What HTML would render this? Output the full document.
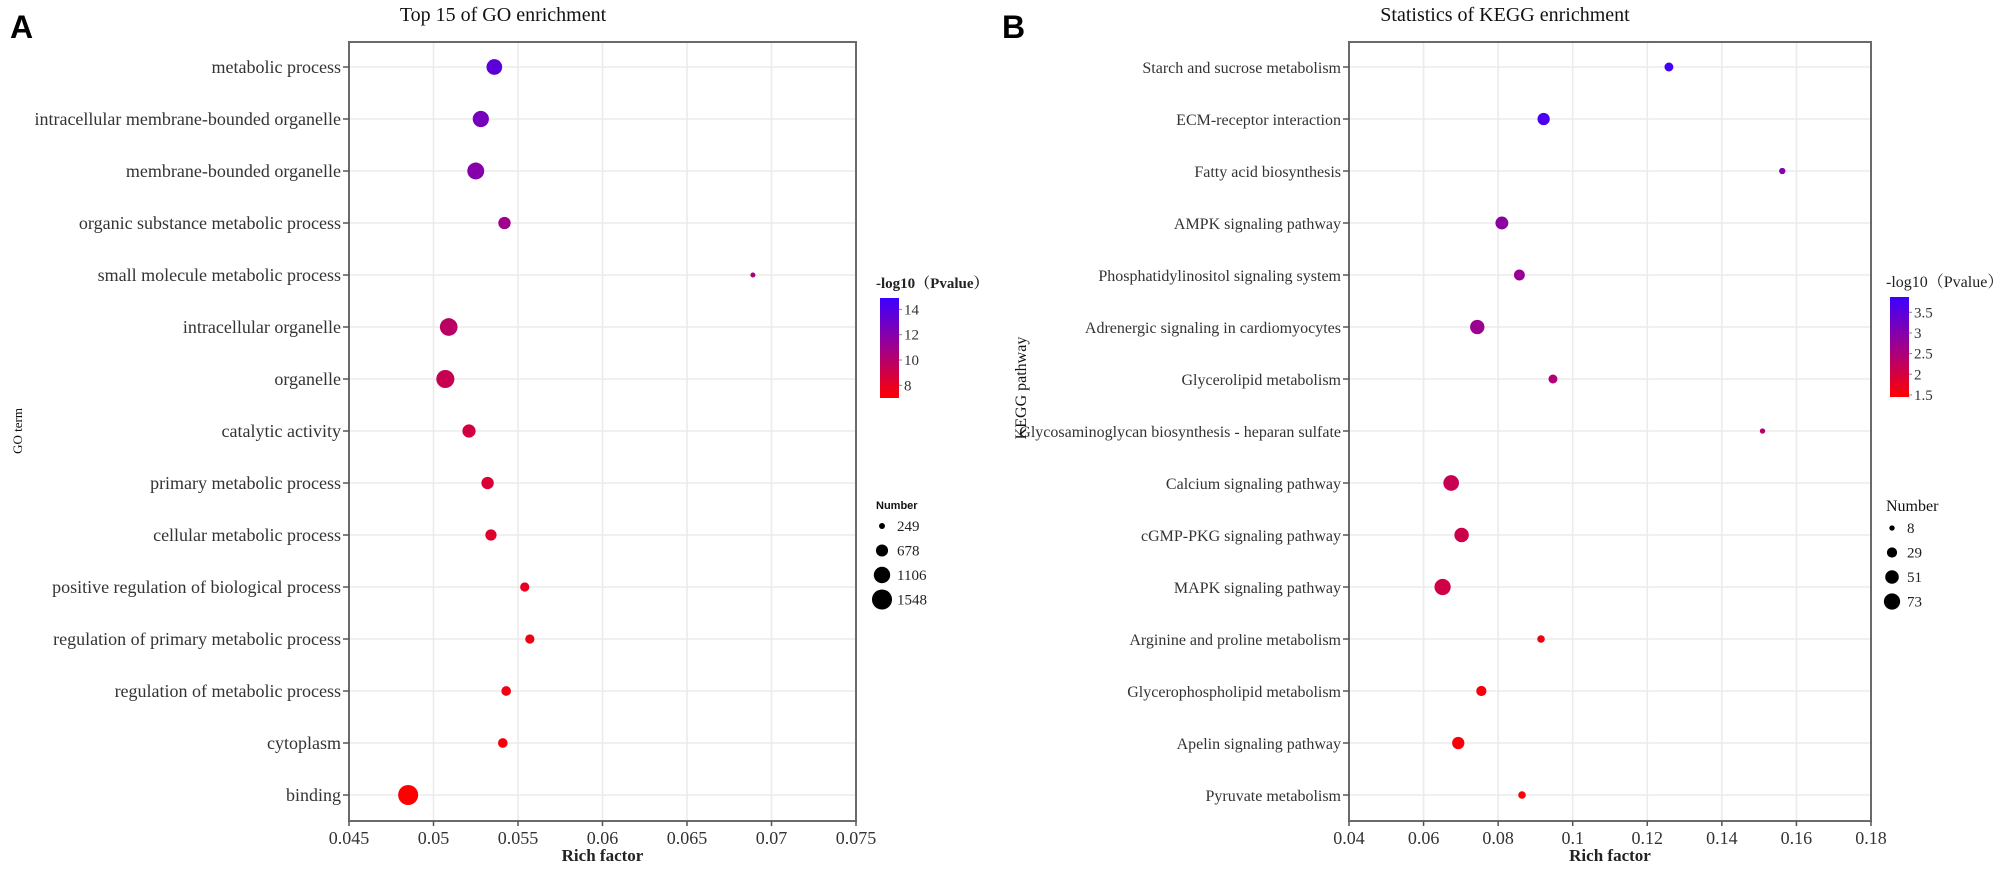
<!DOCTYPE html>
<html><head><meta charset="utf-8"><style>
body{margin:0;background:#fff}
svg text{font-family:"Liberation Serif","Noto Serif CJK SC",serif}
</style></head><body>
<svg id="c" width="2001" height="868" viewBox="0 0 2001 868" xmlns="http://www.w3.org/2000/svg">
<defs>
<linearGradient id="gA" x1="0" y1="1" x2="0" y2="0"><stop offset="0" stop-color="#ff0000"/><stop offset="0.5" stop-color="#a0008c"/><stop offset="1" stop-color="#3c00ff"/></linearGradient>
</defs>
</svg>
<script>
// ---- Panel A data ----
const goTerms=["metabolic process","intracellular membrane-bounded organelle","membrane-bounded organelle","organic substance metabolic process","small molecule metabolic process","intracellular organelle","organelle","catalytic activity","primary metabolic process","cellular metabolic process","positive regulation of biological process","regulation of primary metabolic process","regulation of metabolic process","cytoplasm","binding"];
const goRich=[0.0536,0.0528,0.0525,0.0542,0.0689,0.0509,0.0507,0.0521,0.0532,0.0534,0.0554,0.0557,0.0543,0.0541,0.0485];
const goNumber=[1030,1080,1160,700,200,1250,1300,780,700,600,450,450,480,480,1548];
const goLogP=[13.6,12.6,12.0,11.0,10.6,9.8,9.3,8.8,8.5,8.3,8.0,7.6,7.5,7.3,7.0];
const goXTicks=[0.045,0.05,0.055,0.06,0.065,0.07,0.075];
const goColorTicks=[14,12,10,8];
const goSizeLegend=[249,678,1106,1548];
// ---- Panel B data ----
const keggTerms=["Starch and sucrose metabolism","ECM-receptor interaction","Fatty acid biosynthesis","AMPK signaling pathway","Phosphatidylinositol signaling system","Adrenergic signaling in cardiomyocytes","Glycerolipid metabolism","Glycosaminoglycan biosynthesis - heparan sulfate","Calcium signaling pathway","cGMP-PKG signaling pathway","MAPK signaling pathway","Arginine and proline metabolism","Glycerophospholipid metabolism","Apelin signaling pathway","Pyruvate metabolism"];
const keggRich=[0.1258,0.0922,0.1562,0.0810,0.0857,0.0744,0.0947,0.1509,0.0674,0.0702,0.0651,0.0915,0.0755,0.0693,0.0864];
const keggNumber=[22,42,11,46,33,57,22,8,68,58,73,16,29,42,16];
const keggLogP=[3.8,3.7,3.0,2.9,2.75,2.7,2.45,2.4,2.15,2.1,2.05,1.65,1.55,1.52,1.5];
const keggXTicks=[0.04,0.06,0.08,0.1,0.12,0.14,0.16,0.18];
const keggColorTicks=[3.5,3,2.5,2,1.5];
const keggSizeLegend=[8,29,51,73];

const svg=document.getElementById('c');
const NS='http://www.w3.org/2000/svg';
function mk(tag,attrs,parent,txt){const e=document.createElementNS(NS,tag);for(const k in attrs)e.setAttribute(k,attrs[k]);if(txt!==undefined)e.textContent=txt;(parent||svg).appendChild(e);return e;}
function col(t){t=Math.max(0,Math.min(1,t));let r,g,b;
 if(t<0.5){const u=t/0.5;r=255+(160-255)*u;g=0;b=0+(140-0)*u;}else{const u=(t-0.5)/0.5;r=160+(60-160)*u;g=0;b=140+(255-140)*u;}
 return `rgb(${r|0},${g|0},${b|0})`;}

function panel(o){
 const g=mk('g',{});
 
 
 const L=o.left,R=o.right,T=42,B=821,y0=67,dy=52;
 const sx=v=>L+(v-o.xmin)/(o.xmax-o.xmin)*(R-L);
 const sy=i=>y0+i*dy;
 // gridlines
 o.xt.forEach(v=>{const ln=mk('line',{x1:sx(v),x2:sx(v),y1:T,y2:B,stroke:'#ebebeb','stroke-width':1.6},g);
  
  });
 o.terms.forEach((t,i)=>{const ln=mk('line',{x1:L,x2:R,y1:sy(i),y2:sy(i),stroke:'#ebebeb','stroke-width':1.6},g);
  
  });
 const fr=mk('rect',{x:L,y:T,width:R-L,height:B-T,fill:'none',stroke:'#6a6a6a','stroke-width':2},g);
 
 
 // y labels
 o.terms.forEach((t,i)=>{mk('line',{x1:L-6,x2:L,y1:sy(i),y2:sy(i),stroke:'#555','stroke-width':1.5},g);
  const tx=mk('text',{x:L-8,y:sy(i)+6,'text-anchor':'end','font-size':o.lfs,fill:'#333'},g,t);
  
  });
 // x ticks
 o.xt.forEach(v=>{mk('line',{x1:sx(v),x2:sx(v),y1:B,y2:B+5,stroke:'#555','stroke-width':1.5},g);
  const tx=mk('text',{x:sx(v),y:B+23,'text-anchor':'middle','font-size':18,fill:'#333'},g,String(v));
  
  });
 const xt=mk('text',{x:(L+R)/2,y:861,'text-anchor':'middle','font-size':17,'font-weight':'bold',fill:'#222'},g,'Rich factor');
 
 
 // points
 o.terms.forEach((t,i)=>{const c=mk('circle',{cx:sx(o.rich[i]),cy:sy(i),r:o.rad(o.num[i]),fill:col((o.lp[i]-o.cmin)/(o.cmax-o.cmin))},g);
  
  });
 // title
 const ti=mk('text',{x:o.titleX,y:21,'text-anchor':'middle','font-size':20,fill:'#111'},g,o.title);
 
 
 // panel letter
 const pl=mk('text',{x:o.letterX,y:38,'font-size':32,'font-weight':'bold',fill:'#000',style:'font-family:"Liberation Sans",sans-serif'},g,o.letter);
 
 
 // y title
 const yt=mk('text',{x:0,y:0,'text-anchor':'middle','font-size':o.ytfs,fill:'#111',transform:`translate(${o.ytX},${o.ytY}) rotate(-90)`},g,o.ytitle);
 
 
 // color legend
 const lx=o.legX, cbT=o.cbTop, cbB=o.cbTop+100;
 const lt=mk('text',{x:lx,y:cbT-10,'font-size':o.legBold?15:16,'font-weight':o.legBold?'bold':'normal',fill:'#222'},g,'-log10（Pvalue）');
 
 
 const cb=mk('rect',{x:lx+4,y:cbT,width:19,height:100,fill:'url(#gA)'},g);
 
 
 const cyy=v=>cbB-(v-o.cmin)/(o.cmax-o.cmin)*100;
 o.ct.forEach(v=>{mk('line',{x1:lx+23,x2:lx+26,y1:cyy(v),y2:cyy(v),stroke:'#888'},g);
  const tx=mk('text',{x:lx+28,y:cyy(v)+5,'font-size':15,fill:'#333'},g,String(v));
  
  });
 // size legend
 const nt=mk('text',{x:lx,y:o.sizeTop,'font-size':o.legBold?11:16,'font-weight':o.legBold?'bold':'normal',fill:'#111',style:o.legBold?'font-family:"Liberation Sans",sans-serif':''},g,'Number');
 
 
 o.sl.forEach((n,k)=>{const yy=o.sizeTop+17+k*24.5;
  const c=mk('circle',{cx:lx+6,cy:yy,r:o.rad(n),fill:'#000'},g);
  
  
  const tx=mk('text',{x:lx+21,y:yy+5,'font-size':15,fill:'#222'},g,String(n));
  
  });
}

panel({name:'go',left:349,right:856,xmin:0.045,xmax:0.075,xt:goXTicks,terms:goTerms,rich:goRich,num:goNumber,lp:goLogP,
 cmin:7.0,cmax:14.9,ct:goColorTicks,sl:goSizeLegend,rad:n=>Math.max(2,-1.7+0.298*Math.sqrt(n)),lfs:18,
 title:'Top 15 of GO enrichment',titleX:503,letter:'A',letterX:10,ytitle:'GO term',ytfs:13,ytX:22,ytY:431,
 legX:876,cbTop:298,legBold:true,sizeTop:509});
panel({name:'kegg',left:1349,right:1871,xmin:0.04,xmax:0.18,xt:keggXTicks,terms:keggTerms,rich:keggRich,num:keggNumber,lp:keggLogP,
 cmin:1.45,cmax:3.87,ct:keggColorTicks,sl:keggSizeLegend,rad:n=>0.95*Math.sqrt(n),lfs:16,
 title:'Statistics of KEGG enrichment',titleX:1505,letter:'B',letterX:1002,ytitle:'KEGG pathway',ytfs:16,ytX:1026,ytY:388,
 legX:1886,cbTop:297,legBold:false,sizeTop:511});
</script>
</body></html>
